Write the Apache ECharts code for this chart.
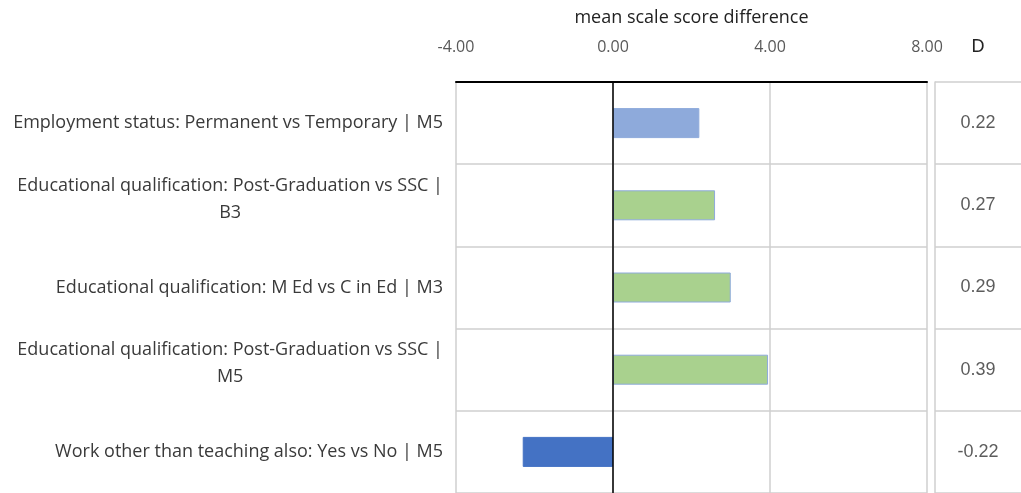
<!DOCTYPE html>
<html><head><meta charset="utf-8">
<script src="https://cdn.jsdelivr.net/npm/echarts@6/dist/echarts.min.js"></script>
<style>html,body{margin:0;padding:0;background:#fff}#c{width:1021px;height:493px}</style>
</head><body><div id="c"></div>
<script>
const categories = [
  'Employment status: Permanent vs Temporary | M5',
  'Educational qualification: Post-Graduation vs SSC |\nB3',
  'Educational qualification: M Ed vs C in Ed | M3',
  'Educational qualification: Post-Graduation vs SSC |\nM5',
  'Work other than teaching also: Yes vs No | M5'
];
const meanDiff = [2.2, 2.6, 3.0, 3.95, -2.3];
const effectD = [0.22, 0.27, 0.29, 0.39, -0.22];
const xTicks = [-4, 0, 4, 8];
const dHeader = ['D'];
const axisTitle = 'mean scale score difference';
const barColors = ['#8eaadb', '#a9d18e', '#a9d18e', '#a9d18e', '#4472c4'];
const barBorders = ['#8eaadb', '#8eaadb', '#8eaadb', '#8eaadb', '#4472c4'];

const chart = echarts.init(document.getElementById('c'), null, {renderer: 'canvas'});
const gridLine = {color: '#cfcfcf', width: 1.5};
chart.setOption({
  animation: false,
  backgroundColor: '#fff',
  grid: [
    {left: 456, right: 94, top: 82, bottom: 0},
    {left: 935, right: 0, top: 82, bottom: 0}
  ],
  xAxis: [
    {
      type: 'value', gridIndex: 0, position: 'top',
      min: xTicks[0], max: xTicks[xTicks.length - 1], interval: xTicks[1] - xTicks[0],
      axisLine: {show: true, lineStyle: {color: '#000', width: 2}},
      axisTick: {show: false},
      axisLabel: {formatter: v => v.toFixed(2), margin: 27, color: '#595959', fontFamily: 'Open Sans', fontSize: 16},
      splitLine: {show: true, lineStyle: gridLine},
      name: axisTitle, nameLocation: 'middle', nameGap: 55,
      nameTextStyle: {fontFamily: 'Open Sans', fontSize: 18, color: '#222'}
    },
    {
      type: 'category', gridIndex: 1, position: 'top', data: dHeader,
      axisLine: {show: false}, axisTick: {show: false},
      axisLabel: {margin: 26, fontFamily: 'Liberation Sans', fontSize: 18, color: '#222'},
      splitLine: {show: false}
    }
  ],
  yAxis: [
    {
      type: 'category', gridIndex: 0, inverse: true, data: categories,
      axisLine: {show: false}, axisTick: {show: false},
      splitLine: {show: true, lineStyle: gridLine},
      axisLabel: {
        margin: 13,
        formatter: v => {
          const lines = v.split('\n');
          const body = lines.map(s => '{c|' + s + '}').join('\n');
          return lines.length > 1 ? body + '\n{s| }' : body;
        },
        rich: {
          c: {align: 'center', fontFamily: 'Open Sans', fontSize: 18, color: '#3a3a3a', lineHeight: 27},
          s: {fontSize: 4, lineHeight: 12}
        }
      }
    },
    {
      type: 'category', gridIndex: 1, inverse: true, data: categories,
      axisLine: {show: true, lineStyle: gridLine}, axisTick: {show: false},
      axisLabel: {show: false},
      splitLine: {show: true, lineStyle: gridLine}
    }
  ],
  series: [
    {
      type: 'bar', xAxisIndex: 0, yAxisIndex: 0, barWidth: 30,
      data: meanDiff.map((v, i) => ({value: v, itemStyle: {color: barColors[i], borderColor: barBorders[i], borderWidth: 1}})),
      markLine: {
        silent: true, symbol: 'none', label: {show: false},
        lineStyle: {color: '#000', width: 1.5, type: 'solid'},
        data: [{xAxis: 0}]
      }
    },
    {
      type: 'scatter', xAxisIndex: 1, yAxisIndex: 1, symbolSize: 1,
      itemStyle: {color: 'rgba(0,0,0,0)'},
      data: effectD.map((d, i) => [dHeader[0], categories[i], d]),
      label: {show: true, position: 'inside', formatter: p => p.value[2].toFixed(2),
        fontFamily: 'Liberation Sans', fontSize: 18, color: '#333'}
    }
  ]
});
</script></body></html>
